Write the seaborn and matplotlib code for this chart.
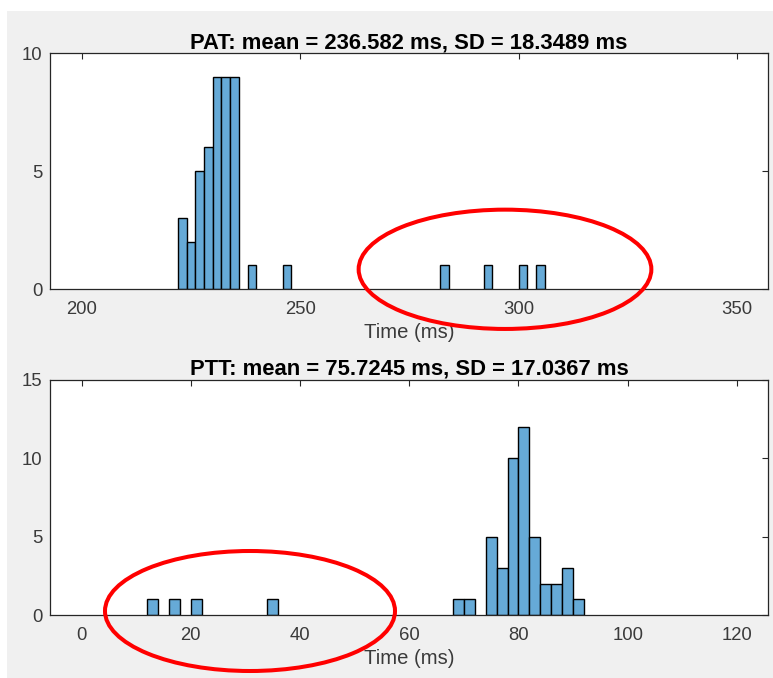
import numpy as np
import pandas as pd
import matplotlib
matplotlib.use("Agg")
import matplotlib.pyplot as plt
import seaborn as sns
from matplotlib.patches import Ellipse, Rectangle

# Histogram data: left edge of each occupied 2 ms bin and its count
pat_bin_left = [222, 224, 226, 228, 230, 232, 234, 238, 246, 282, 292, 300, 304]
pat_counts = [3, 2, 5, 6, 9, 9, 9, 1, 1, 1, 1, 1, 1]
ptt_bin_left = [12, 16, 20, 34, 68, 70, 74, 76, 78, 80, 82, 84, 86, 88, 90]
ptt_counts = [1, 1, 1, 1, 1, 1, 5, 3, 10, 12, 5, 2, 2, 3, 1]
bin_width = 2

pat_title = "PAT: mean = 236.582 ms, SD = 18.3489 ms"
ptt_title = "PTT: mean = 75.7245 ms, SD = 17.0367 ms"
x_label = "Time (ms)"
pat_xticks = [200, 250, 300, 350]
pat_yticks = [0, 5, 10]
ptt_xticks = [0, 20, 40, 60, 80, 100, 120]
ptt_yticks = [0, 5, 10, 15]

sns.set_style("white")
plt.rcParams["font.family"] = ["Liberation Sans", "DejaVu Sans"]

W, H = 773, 678
fig = plt.figure(figsize=(W / 100, H / 100), dpi=100, facecolor="white")
# grey window background
fig.patches.append(Rectangle((7 / W, 0), 1, 1 - 11 / H, transform=fig.transFigure,
                             facecolor="#f0f0f0", edgecolor="none", zorder=-10))

ax1 = fig.add_axes([50 / W, 1 - 289 / H, 718 / W, 236 / H])
ax2 = fig.add_axes([50 / W, 1 - 615 / H, 718 / W, 235 / H])

bar_color = "#66aad7"
edge = "#262626"
label_color = "#3a3a3a"


def draw_hist(ax, lefts, counts, xlim, ylim, xticks, yticks, title):
    df = pd.DataFrame({"center": np.asarray(lefts) + bin_width / 2, "count": counts})
    sns.histplot(data=df, x="center", weights="count", binwidth=bin_width,
                 binrange=(min(lefts), max(lefts) + bin_width), ax=ax,
                 color=bar_color, edgecolor="black", linewidth=1.0, alpha=1.0)
    for p in ax.patches:
        if p.get_height() == 0:
            p.set_visible(False)
    ax.set_facecolor("white")
    ax.set_xlim(*xlim)
    ax.set_ylim(*ylim)
    ax.set_xticks(xticks)
    ax.set_yticks(yticks)
    ax.set_ylabel("")
    ax.set_xlabel(x_label, fontsize=14.6, color=label_color, labelpad=4)
    ax.set_title(title, fontsize=15.8, fontweight="bold", color="black", pad=3.6)
    ax.tick_params(direction="in", length=4.5, width=0.8, top=True, right=True,
                   color=edge, labelcolor=label_color, labelsize=13.3)
    ax.tick_params(axis="x", pad=8.5)
    ax.tick_params(axis="y", pad=5.5)
    for s in ax.spines.values():
        s.set_color(edge)
        s.set_linewidth(0.9)
        s.set_visible(True)


draw_hist(ax1, pat_bin_left, pat_counts, (192.75, 357.1), (0, 10),
          pat_xticks, pat_yticks, pat_title)
draw_hist(ax2, ptt_bin_left, ptt_counts, (-5.8, 125.7), (0, 15),
          ptt_xticks, ptt_yticks, ptt_title)

# red outlines around the outlying values
for cx, cy, w, h in [(505, 269.3, 292.7, 119.3), (250, 611, 290, 120)]:
    fig.patches.append(Ellipse((cx / W, 1 - cy / H), w / W, h / H,
                               transform=fig.transFigure, fill=False,
                               edgecolor="#ff0000", linewidth=2.9, zorder=20))

fig.savefig("out.png", dpi=100, facecolor=fig.get_facecolor())
